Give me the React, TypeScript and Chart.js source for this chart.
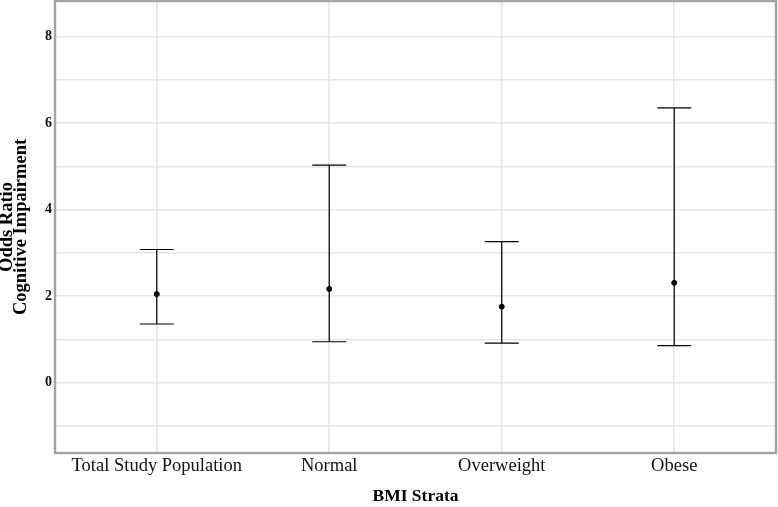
import React, { useEffect, useRef } from "react";
import { Chart, registerables } from "chart.js";

Chart.register(...registerables);

const categories = ["Total Study Population", "Normal", "Overweight", "Obese"];
const oddsRatio = [2.05, 2.17, 1.76, 2.31];
const lowerCI = [1.36, 0.95, 0.92, 0.86];
const upperCI = [3.08, 5.03, 3.26, 6.35];
const yTickValues = [-1, 0, 1, 2, 3, 4, 5, 6, 7, 8];
const yMin = -1.62;
const yMax = 8.82;

const errorBarPlugin = {
  id: "errorBars",
  beforeDatasetsDraw(chart: any) {
    const { ctx, chartArea } = chart;
    ctx.save();
    ctx.strokeStyle = "#a3a3a3";
    ctx.lineWidth = 2.4;
    ctx.strokeRect(chartArea.left, chartArea.top, chartArea.right - chartArea.left, chartArea.bottom - chartArea.top);
    ctx.restore();
  },
  afterDatasetsDraw(chart: any) {
    const { ctx } = chart;
    const xs = chart.scales.x;
    const ys = chart.scales.y;
    ctx.save();
    ctx.strokeStyle = "#000";
    ctx.lineWidth = 1.2;
    categories.forEach((_, i) => {
      const x = xs.getPixelForValue(i + 1);
      const yl = ys.getPixelForValue(lowerCI[i]);
      const yu = ys.getPixelForValue(upperCI[i]);
      const hw = 17;
      ctx.beginPath();
      ctx.moveTo(x, yl);
      ctx.lineTo(x, yu);
      ctx.moveTo(x - hw, yl);
      ctx.lineTo(x + hw, yl);
      ctx.moveTo(x - hw, yu);
      ctx.lineTo(x + hw, yu);
      ctx.stroke();
    });
    ctx.restore();
  },
};

export default function App() {
  const ref = useRef<HTMLCanvasElement | null>(null);
  useEffect(() => {
    if (!ref.current) return;
    const chart = new Chart(ref.current, {
      type: "scatter",
      data: {
        datasets: [
          {
            data: oddsRatio.map((v, i) => ({ x: i + 1, y: v })),
            backgroundColor: "#000",
            borderColor: "#000",
            pointRadius: 2.5,
            pointHoverRadius: 2.5,
          },
        ],
      },
      options: {
        animation: false,
        responsive: false,
        devicePixelRatio: 1,
        layout: { autoPadding: false, padding: { top: 1, right: 2, left: 0, bottom: 0 } },
        plugins: { legend: { display: false }, tooltip: { enabled: false } },
        scales: {
          x: {
            type: "linear",
            min: 0.41,
            max: 4.59,
            afterBuildTicks: (s: any) => {
              s.ticks = categories.map((_, i) => ({ value: i + 1 }));
            },
            afterFit: (s: any) => {
              s.height = 54;
              s.paddingLeft = 0;
              s.paddingRight = 0;
            },
            border: { display: false },
            grid: { color: "#e6e6e6", lineWidth: 1.6, drawTicks: false },
            ticks: {
              padding: 2,
              color: "#111",
              font: { family: "Liberation Serif", size: 18.5 },
              callback: (v: any) => categories[Number(v) - 1] ?? "",
              maxRotation: 0,
              autoSkip: false,
            },
            title: {
              display: true,
              text: "BMI Strata",
              color: "#000",
              font: { family: "Liberation Serif", size: 17.5, weight: "bold" },
              padding: { top: 0, bottom: 0 },
            },
          },
          y: {
            min: yMin,
            max: yMax,
            afterBuildTicks: (s: any) => {
              s.ticks = yTickValues.map((v) => ({ value: v }));
            },
            afterFit: (s: any) => {
              s.width = 55;
              s.paddingTop = 0;
              s.paddingBottom = 0;
            },
            border: { display: false },
            grid: { color: "#e6e6e6", lineWidth: 1.6, drawTicks: false },
            ticks: {
              padding: 3,
              color: "#111",
              font: { family: "Liberation Serif", size: 14, weight: "bold" },
              callback: (v: any) => (Number(v) % 2 === 0 ? String(v) : ""),
              autoSkip: false,
            },
            title: {
              display: true,
              text: ["Odds Ratio", "Cognitive Impairment"],
              color: "#000",
              font: { family: "Liberation Serif", size: 18.5, weight: "bold", lineHeight: 0.76 },
              padding: { top: 0, bottom: 0 },
            },
          },
        },
      },
      plugins: [errorBarPlugin],
    });
    return () => chart.destroy();
  }, []);
  return (
    <div style={{ position: "fixed", left: 0, top: 0, width: 778, height: 507, background: "#fff" }}>
      <canvas ref={ref} width={778} height={507} style={{ display: "block", width: 778, height: 507 }} />
    </div>
  );
}
